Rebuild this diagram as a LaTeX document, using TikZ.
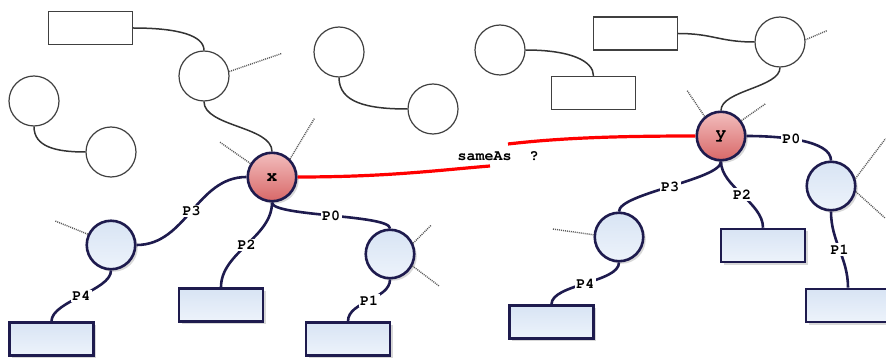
\documentclass[tikz,border=0pt]{standalone}
\usetikzlibrary{shadows}
\definecolor{navy}{HTML}{1E1B4E}
\definecolor{bluetop}{HTML}{D8E4F4}
\definecolor{bluebot}{HTML}{EDF3FB}
\definecolor{redtop}{HTML}{F2BDBD}
\definecolor{redbot}{HTML}{D86868}
\newcommand\lblfont{\fontencoding{T1}\fontfamily{pcr}\fontseries{b}\fontsize{15}{15}\selectfont}
\newcommand\resfont{\fontencoding{T1}\fontfamily{pcr}\fontseries{b}\fontsize{18}{18}\selectfont}

\begin{document}
\begin{tikzpicture}[x=1pt, y=1pt,
  plain/.style={draw=black!75, line width=1.2pt, fill=white, inner sep=0pt},
  pcirc/.style={plain, circle, minimum size=50pt},
  pbox/.style={plain, rectangle, minimum width=84pt, minimum height=33pt},
  fancy/.style={draw=navy, line width=2.6pt, inner sep=0pt,
    drop shadow={shadow xshift=2.5pt, shadow yshift=-2.5pt, fill=black!30}},
  bcirc/.style={fancy, circle, minimum size=48.5pt, top color=bluetop, bottom color=bluebot},
  bbox/.style={fancy, rectangle, minimum width=84pt, minimum height=33pt, top color=bluetop, bottom color=bluebot},
  rcirc/.style={fancy, circle, minimum size=48.5pt, top color=redtop, bottom color=redbot, font=\resfont},
  link/.style={draw=black!80, line width=1.5pt},
  prop/.style={draw=navy, line width=2.6pt},
  lbl/.style={fill=white, inner sep=1.5pt, font=\lblfont},
  dots/.style={draw=black!65, line width=1.4pt, dash pattern=on 1pt off 1pt},
  same/.style={draw=red, line width=3.2pt}
]
\useasboundingbox (0,0) rectangle (886,-358);
%plain part, left
\node[pbox] (A) at (90.5,-28) {};
\node[pcirc] (B) at (204,-76) {};
\node[pcirc] (C) at (34,-101) {};
\node[pcirc] (D) at (111,-152) {};
\node[pcirc] (E) at (339,-52) {};
\node[pcirc] (F) at (433,-109) {};
%plain part, right
\node[pcirc] (G) at (500,-50) {};
\node[pbox] (H) at (593.5,-93) {};
\node[pbox] (I) at (635.5,-33.5) {};
\node[pcirc] (J) at (780,-42) {};
%resources
\node[rcirc] (x) at (272,-177) {x};
\node[rcirc] (y) at (721,-136) {y};
\node[bcirc] (K) at (111,-245) {};
\node[bbox] (L) at (51.5,-339) {};
\node[bbox] (M) at (221,-305) {};
\node[bcirc] (N) at (390,-254) {};
\node[bbox] (O) at (348,-339) {};
\node[bcirc] (Q) at (619,-237) {};
\node[bbox] (R) at (551.5,-322) {};
\node[bbox] (S) at (763,-245.5) {};
\node[bcirc] (T) at (831,-186) {};
\node[bbox] (U) at (848,-305.5) {};
%plain links
\draw[link] (A.east) .. controls +(45,0) and +(0,15) .. (B.north);
\draw[link] (B.south) .. controls +(0,-25) and +(0,25) .. (x.north);
\draw[link] (C.south) .. controls +(0,-20) and +(-30,0) .. (D.west);
\draw[link] (E.south) .. controls +(0,-25) and +(-40,0) .. (F.west);
\draw[link] (G.east) .. controls +(45,0) and +(0,15) .. (H.north);
\draw[link] (I.east) .. controls +(35,0) and +(-35,0) .. (J.west);
\draw[link] (J.south) .. controls +(0,-20) and +(0,20) .. (y.north);
%dangling
\draw[dots] (B.10) -- ++(19:55);
\draw[dots] (x.148) -- ++(145:38);
\draw[dots] (x.45) -- ++(59:48);
\draw[dots] (J.5) -- ++(23:23);
\draw[dots] (y.130) -- ++(124:32);
\draw[dots] (y.37) -- ++(35:30);
\draw[dots] (K.155) -- ++(158:35);
\draw[dots] (N.25) -- ++(45:25);
\draw[dots] (N.-28) -- ++(-37:33);
\draw[dots] (Q.175) -- ++(172:41);
\draw[dots] (T.17) -- ++(53:50);
\draw[dots] (T.-13) -- ++(-42:40);
%properties of x
\draw[prop] (x.west) .. controls +(-50,0) and +(50,0) .. node[lbl] {P3} (K.east);
\draw[prop] (K.south) .. controls +(0,-20) and +(0,20) .. node[lbl] {P4} (L.north);
\draw[prop] (x.south) .. controls +(0,-35) and +(0,35) .. node[lbl] {P2} (M.north);
\draw[prop] (x.south) .. controls +(0,-14) and +(0,14) .. node[lbl] {P0} (N.north);
\draw[prop] (N.south) .. controls +(0,-20) and +(0,20) .. node[lbl] {P1} (O.north);
%properties of y
\draw[prop] (y.south) .. controls +(0,-18) and +(0,18) .. node[lbl] {P3} (Q.north);
\draw[prop] (Q.south) .. controls +(0,-20) and +(0,20) .. node[lbl] {P4} (R.north);
\draw[prop] (y.south) .. controls +(0,-25) and +(0,25) .. node[lbl] {P2} (S.north);
\draw[prop] (y.east) .. controls +(35,0) and +(0,20) .. node[lbl, pos=0.4] {P0} (T.north);
\draw[prop] (T.south) .. controls +(0,-30) and +(0,30) .. node[lbl] {P1} (U.north);
%Text
\node[font=\lblfont, inner sep=0pt] (sameas) at (498,-156) {sameAs~~?};
\coordinate (sa) at (490,-166);
\coordinate (sb) at (508,-144);
\draw[same] (x.east) .. controls +(90,0) and (440,-170) .. (sa);
\draw[same] (sb) .. controls (560,-138) and +(-80,0) .. (y.west);
\end{tikzpicture}
\end{document}
